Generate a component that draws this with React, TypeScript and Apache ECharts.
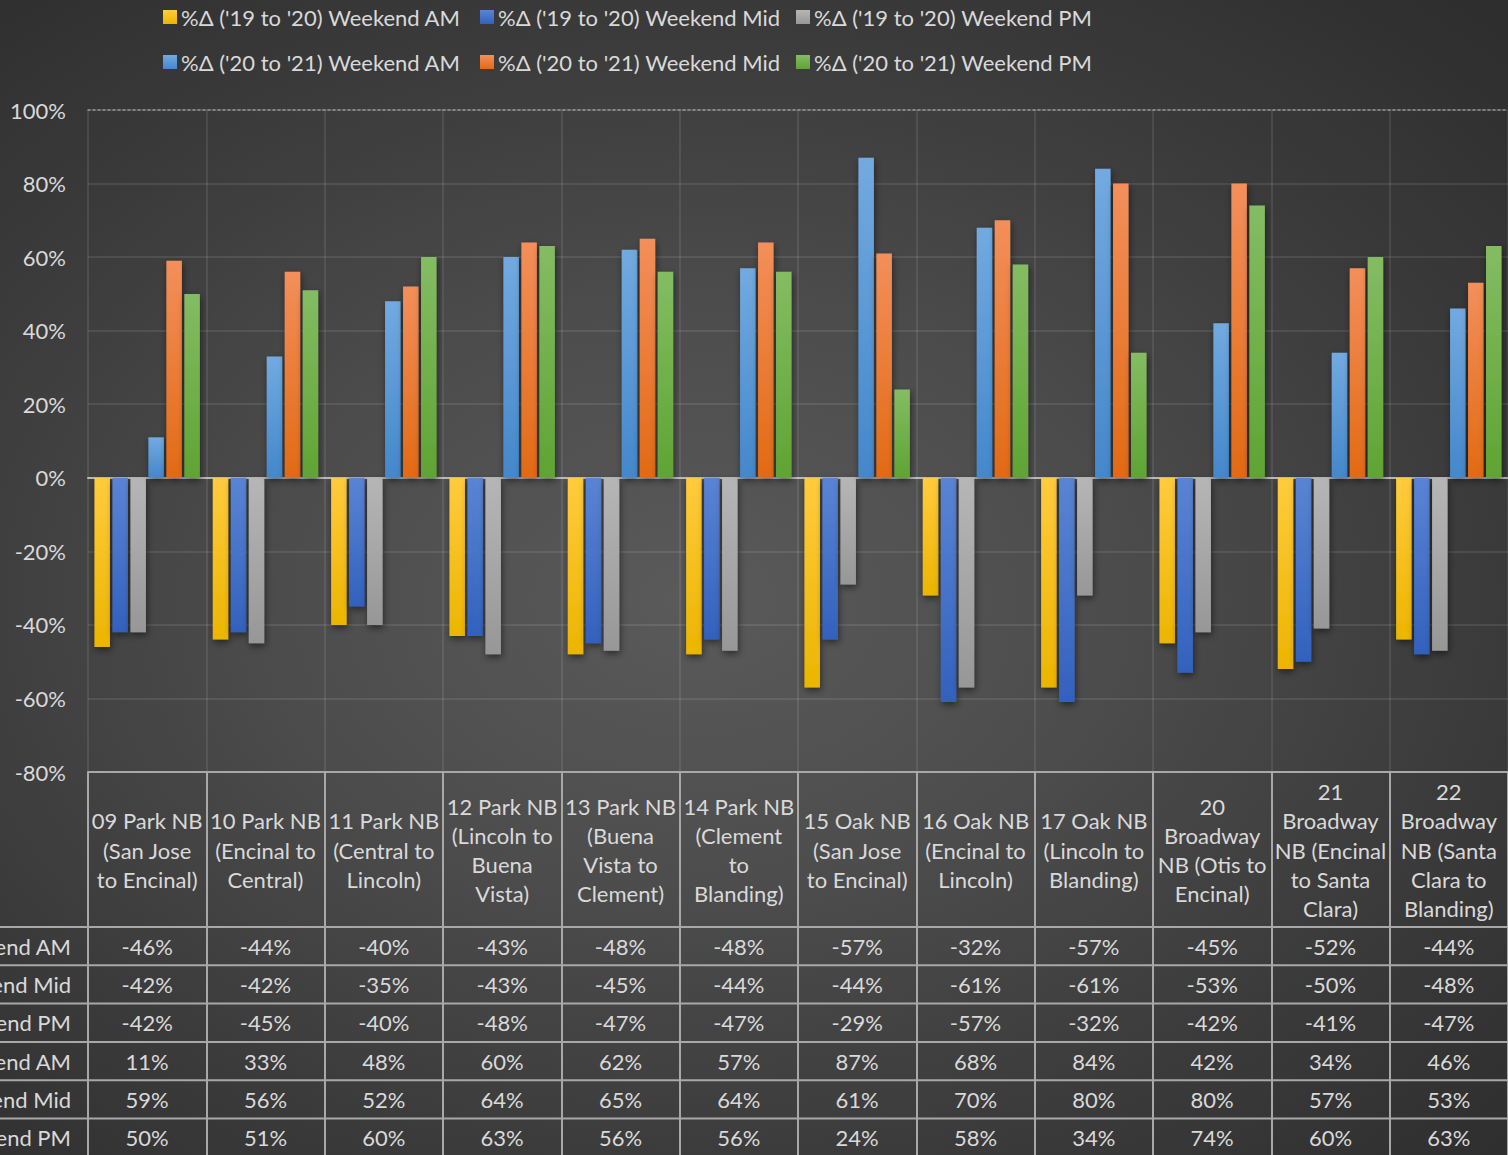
import React, { useEffect, useRef } from "react";
import * as echarts from "echarts";

const categories = [
  "09 Park NB\n(San Jose\nto Encinal)",
  "10 Park NB\n(Encinal to\nCentral)",
  "11 Park NB\n(Central to\nLincoln)",
  "12 Park NB\n(Lincoln to\nBuena\nVista)",
  "13 Park NB\n(Buena\nVista to\nClement)",
  "14 Park NB\n(Clement\nto\nBlanding)",
  "15 Oak NB\n(San Jose\nto Encinal)",
  "16 Oak NB\n(Encinal to\nLincoln)",
  "17 Oak NB\n(Lincoln to\nBlanding)",
  "20\nBroadway\nNB (Otis to\nEncinal)",
  "21\nBroadway\nNB (Encinal\nto Santa\nClara)",
  "22\nBroadway\nNB (Santa\nClara to\nBlanding)",
];

const seriesNames = [
  "%Δ ('19 to '20) Weekend AM",
  "%Δ ('19 to '20) Weekend Mid",
  "%Δ ('19 to '20) Weekend PM",
  "%Δ ('20 to '21) Weekend AM",
  "%Δ ('20 to '21) Weekend Mid",
  "%Δ ('20 to '21) Weekend PM",
];

const am1920 = [-46, -44, -40, -43, -48, -48, -57, -32, -57, -45, -52, -44];
const mid1920 = [-42, -42, -35, -43, -45, -44, -44, -61, -61, -53, -50, -48];
const pm1920 = [-42, -45, -40, -48, -47, -47, -29, -57, -32, -42, -41, -47];
const am2021 = [11, 33, 48, 60, 62, 57, 87, 68, 84, 42, 34, 46];
const mid2021 = [59, 56, 52, 64, 65, 64, 61, 70, 80, 80, 57, 53];
const pm2021 = [50, 51, 60, 63, 56, 56, 24, 58, 34, 74, 60, 63];

const seriesValues = [am1920, mid1920, pm1920, am2021, mid2021, pm2021];

const yTicks = { min: -80, max: 100, interval: 20 };

// styling
const barColors: [string, string][] = [
  ["#ffcb3d", "#ecb500"],
  ["#5a84d4", "#3261bd"],
  ["#b6b6b6", "#979797"],
  ["#72aae0", "#4487cb"],
  ["#f38f5b", "#e26a14"],
  ["#84bc63", "#5fa433"],
];

const FONT = "Lato, 'Noto Sans', sans-serif";
const TEXT = "#d9d9d9";
const FS = 22;
const W = 1508;
const H = 1155;
const GRID_LEFT = 88;
const GRID_TOP = 110;
const GRID_BOTTOM_Y = 772;
const HEADER_BOTTOM = 927;
const ROW_H = 38.3;
const TABLE_LINE = "#a8a8a8";

export default function App() {
  const ref = useRef<HTMLDivElement>(null);

  useEffect(() => {
    document.body.style.margin = "0";
    document.body.style.overflow = "hidden";
    if (!ref.current) return;
    const chart = echarts.init(ref.current, null, { renderer: "svg" });

    const rowAxes = seriesValues.map((vals, i) => ({
      type: "category",
      gridIndex: 0,
      position: "bottom",
      offset: HEADER_BOTTOM + ROW_H * (i + 0.5) - GRID_BOTTOM_Y,
      data: vals.map((v) => `${v}%`),
      axisLine: { show: false, onZero: false },
      axisTick: { show: false },
      splitLine: { show: false },
      axisLabel: {
        interval: 0,
        margin: 0,
        verticalAlign: "middle",
        color: TEXT,
        fontSize: FS,
        fontFamily: FONT,
      },
      name: seriesNames[i],
      nameLocation: "start",
      nameGap: 17,
      nameTextStyle: {
        align: "right",
        verticalAlign: "middle",
        color: TEXT,
        fontSize: FS,
        fontFamily: FONT,
      },
    }));

    const legendLefts = [163, 480, 796];
    const legendTops = [5, 50];
    const legends = seriesNames.map((n, i) => ({
      data: [n],
      left: legendLefts[i % 3],
      top: legendTops[Math.floor(i / 3)],
      padding: 0,
      icon: "rect",
      itemWidth: 14,
      itemHeight: 14,
      selectedMode: false,
      textStyle: {
        color: TEXT,
        fontSize: FS,
        fontFamily: FONT,
        lineHeight: 24,
        padding: [0, 0, 0, -1],
      },
    }));

    const hLines = [];
    for (let i = 0; i < 6; i++) {
      const y = HEADER_BOTTOM + ROW_H * i;
      hLines.push({
        type: "line",
        silent: true,
        z: 10,
        shape: { x1: 0, y1: y, x2: W, y2: y },
        style: { stroke: TABLE_LINE, lineWidth: 2 },
      });
    }

    const option = {
      animation: false,
      backgroundColor: "transparent",
      textStyle: { fontFamily: FONT },
      legend: legends,
      grid: {
        left: GRID_LEFT,
        right: 0,
        top: GRID_TOP,
        bottom: H - GRID_BOTTOM_Y,
        containLabel: false,
        outerBoundsMode: "none",
      },
      xAxis: [
        {
          type: "category",
          gridIndex: 0,
          position: "bottom",
          data: categories,
          axisLine: {
            show: true,
            onZero: false,
            lineStyle: { color: TABLE_LINE, width: 2 },
          },
          axisTick: {
            show: true,
            interval: 0,
            length: H - GRID_BOTTOM_Y,
            lineStyle: { color: TABLE_LINE, width: 2 },
          },
          axisLabel: {
            interval: 0,
            margin: 78,
            verticalAlign: "middle",
            color: TEXT,
            fontSize: FS,
            fontFamily: FONT,
            lineHeight: 29.3,
          },
          splitLine: {
            show: true,
            interval: 0,
            lineStyle: { color: "rgba(255,255,255,0.09)", width: 2 },
          },
        },
        {
          type: "category",
          gridIndex: 0,
          position: "top",
          data: categories,
          axisLine: {
            show: true,
            onZero: false,
            lineStyle: { color: "rgba(200,200,200,0.6)", width: 1.5, type: [2, 3] },
          },
          axisTick: { show: false },
          axisLabel: { show: false },
          splitLine: { show: false },
        },
        {
          type: "category",
          gridIndex: 0,
          position: "bottom",
          data: categories,
          axisLine: {
            show: true,
            onZero: true,
            lineStyle: { color: "rgba(205,205,205,0.85)", width: 2, type: [3, 1] },
          },
          axisTick: { show: false },
          axisLabel: { show: false },
          splitLine: { show: false },
        },
        ...rowAxes,
      ],
      yAxis: {
        type: "value",
        min: yTicks.min,
        max: yTicks.max,
        interval: yTicks.interval,
        axisLine: { show: false },
        axisTick: { show: false },
        axisLabel: {
          formatter: "{value}%",
          margin: 22,
          color: TEXT,
          fontSize: FS,
          fontFamily: FONT,
        },
        splitLine: {
          show: true,
          lineStyle: { color: "rgba(255,255,255,0.09)", width: 2 },
        },
      },
      series: seriesValues.map((vals, i) => ({
        name: seriesNames[i],
        type: "bar",
        xAxisIndex: 0,
        yAxisIndex: 0,
        data: vals,
        barWidth: 15.5,
        barGap: "16%",
        z: 3,
        itemStyle: {
          color: new echarts.graphic.LinearGradient(0, 0, 0, 1, [
            { offset: 0, color: barColors[i][0] },
            { offset: 1, color: barColors[i][1] },
          ]),
          shadowColor: "rgba(0,0,0,0.5)",
          shadowBlur: 7,
          shadowOffsetX: 1,
          shadowOffsetY: 3,
        },
      })),
      graphic: hLines,
    };

    chart.setOption(option as any);
    return () => chart.dispose();
  }, []);

  return (
    <div
      ref={ref}
      style={{
        width: W,
        height: H,
        background:
          "radial-gradient(ellipse 75% 70% at 46% 52%, #5a5a5a 0%, #4d4d4d 35%, #3b3b3b 70%, #2e2e2e 100%)",
      }}
    />
  );
}
